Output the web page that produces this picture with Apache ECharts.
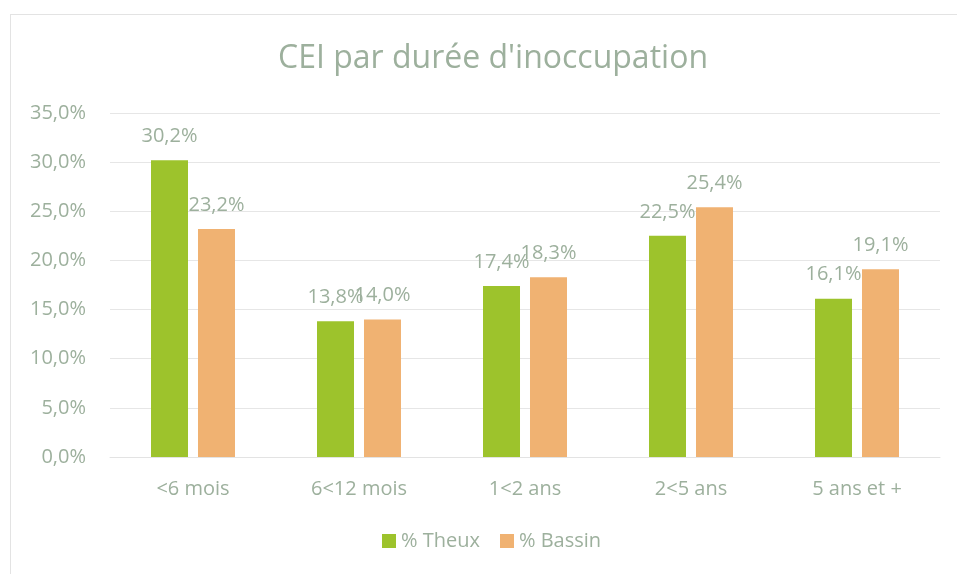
<!DOCTYPE html>
<html>
<head>
<meta charset="utf-8">
<script src="https://cdn.jsdelivr.net/npm/echarts@6/dist/echarts.min.js"></script>
<style>
  html, body { margin: 0; padding: 0; background: #fff; }
  #frame {
    position: absolute; left: 10px; top: 14px; width: 960px; height: 580px;
    border: 1px solid #e3e3e3; box-sizing: border-box;
  }
  #chart { position: absolute; left: 0; top: 0; width: 957px; height: 574px; }
</style>
</head>
<body>
<div id="frame"></div>
<div id="chart"></div>
<script>
// données
var categories = ["<6 mois", "6<12 mois", "1<2 ans", "2<5 ans", "5 ans et +"];
var theux = [30.2, 13.8, 17.4, 22.5, 16.1];
var bassin = [23.2, 14.0, 18.3, 25.4, 19.1];

var txtColor = "#9db09d";
var font = "'Open Sans', sans-serif";

function fmt(v) {
  return v.toFixed(1).replace(".", ",") + "%";
}

var myChart = echarts.init(document.getElementById("chart"));
var options = {
  animation: false,
  title: {
    text: "CEI par durée d'inoccupation",
    left: 488,
    textAlign: "center",
    top: 38,
    textStyle: { color: txtColor, fontSize: 32, fontWeight: "normal", fontFamily: font },
  },
  legend: {
    bottom: 18,
    left: 377,
    itemWidth: 14,
    itemHeight: 14,
    itemGap: 20,
    icon: "rect",
    textStyle: { color: txtColor, fontSize: 20, fontFamily: font },
    data: ["% Theux", "% Bassin"],
  },
  grid: { left: 110, right: 17, top: 113, bottom: 117 },
  xAxis: {
    type: "category",
    data: categories,
    axisTick: { show: false },
    axisLine: { lineStyle: { color: "#e3e3e3" } },
    axisLabel: { color: txtColor, fontSize: 20, fontFamily: font, margin: 22 },
  },
  yAxis: {
    type: "value",
    min: 0,
    max: 35,
    interval: 5,
    axisLabel: {
      color: txtColor, fontSize: 20, fontFamily: font, margin: 24,
      formatter: function (v) { return fmt(v); },
    },
    axisLine: { show: false },
    splitLine: { lineStyle: { color: "#e6e6e6" } },
  },
  series: [
    {
      name: "% Theux",
      type: "bar",
      data: theux,
      barWidth: 37,
      barGap: "27%",
      itemStyle: { color: "#9dc32c" },
      label: {
        show: true, position: "top", distance: 14,
        color: txtColor, fontSize: 20, fontFamily: font,
        formatter: function (p) { return fmt(p.value); },
      },
    },
    {
      name: "% Bassin",
      type: "bar",
      data: bassin,
      barWidth: 37,
      itemStyle: { color: "#f0b272" },
      label: {
        show: true, position: "top", distance: 14,
        color: txtColor, fontSize: 20, fontFamily: font,
        formatter: function (p) { return fmt(p.value); },
      },
    },
  ],
};
myChart.setOption(options);
</script>
</body>
</html>
